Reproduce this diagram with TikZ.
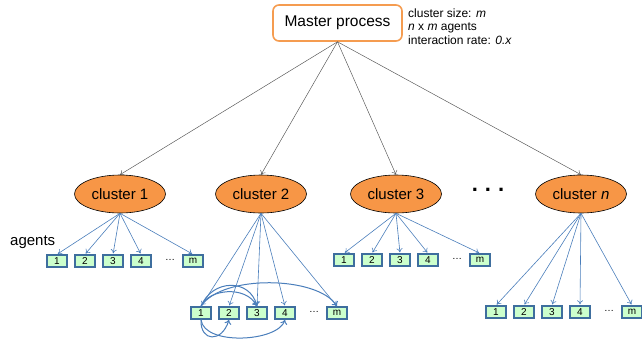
\documentclass[tikz,border=0pt]{standalone}
\usepackage{fontspec}
\setmainfont{Liberation Sans}
\usetikzlibrary{shapes.geometric,arrows.meta}
\definecolor{clusterorange}{HTML}{F79646}
\definecolor{boxorange}{HTML}{F59C50}
\definecolor{agentfill}{HTML}{CCFFCC}
\definecolor{agentedge}{HTML}{3E6E9E}
\definecolor{linkblue}{HTML}{4A7EBB}
\definecolor{toplinkgray}{HTML}{505050}
\begin{document}
\begin{tikzpicture}[x=1pt,y=-1pt,
  masterbox/.style={draw=boxorange,line width=1.6pt,rounded corners=6pt,fill=white,
    minimum width=129pt,minimum height=36pt,inner sep=0pt,font=\fontsize{15.5}{17}\selectfont},
  cluster/.style={ellipse,draw=black,line width=0.6pt,fill=clusterorange,
    minimum width=91pt,minimum height=38pt,inner sep=0pt,font=\fontsize{15}{17}\selectfont},
  agent/.style={rectangle,draw=agentedge,line width=1.4pt,fill=agentfill,
    minimum width=20pt,minimum height=12pt,inner sep=0pt,font=\fontsize{10}{11}\selectfont},
  rowdots/.style={inner sep=0pt,font=\fontsize{10}{11}\selectfont},
  toplink/.style={draw=toplinkgray,line width=0.45pt,-{To[length=4pt,width=6pt]}},
  agentlink/.style={draw=linkblue,line width=0.6pt,-{To[length=4pt,width=6pt]},shorten >=1pt},
  peerlink/.style={draw=linkblue,line width=1pt,-{To[length=4.5pt,width=7pt]}}]
\useasboundingbox (0,0) rectangle (642,341);

% master process and its notes
\node[masterbox] (master) at (337.5,23) {Master process};
\node[anchor=north west,align=left,inner sep=0pt,font=\fontsize{12}{13.8}\selectfont]
  (notes) at (408,8.2) {cluster size: \textit{m}\\\textit{n} x \textit{m} agents\\interaction rate: \textit{0.x}};

% clusters
\node[cluster] (c1) at (120,194) {cluster 1};
\node[cluster] (c2) at (261,194) {cluster 2};
\node[cluster] (c3) at (396,194) {cluster 3};
\node[cluster] (cn) at (581,194) {cluster \textit{n}};
\node[inner sep=0pt,font=\fontsize{22}{22}\selectfont\bfseries] (cdots) at (488,190) {.\hspace{7pt}.\hspace{7pt}.};

\foreach \c in {c1,c2,c3,cn} \draw[toplink] (master.south) -- (\c.north);

\node[anchor=base west,inner sep=0pt,font=\fontsize{15}{17}\selectfont] (agentslabel) at (10,245) {agents};

% agent rows: cluster name / first box x / row y
\foreach \c/\x/\y in {c1/57/261,c2/201/313,c3/344/260,cn/496/312}{
  \foreach \i in {1,2,3,4}
    \node[agent] (\c-\i) at ({\x+28*(\i-1)},\y) {\i};
  \node[agent] (\c-m) at ({\x+136},\y) {m};
  \node[rowdots] (\c-dots) at ({\x+113},{\y-1.5}) {…};
  \foreach \i in {1,2,3,4,m}
    \draw[agentlink] (\c.south) -- (\c-\i.north);
}

% interactions between agents of cluster 2
\draw[peerlink] (c2-1.north) .. controls (212,279) and (250,278) .. (c2-3.north);
\draw[peerlink] (c2-1.north) .. controls (208,289) and (246,285) .. (c2-3.north);
\draw[peerlink] (c2-1.north) .. controls (222,274) and (318,276) .. (c2-m.north);
\draw[peerlink] (c2-1.south) .. controls (200,342) and (222,343) .. (c2-2.south);
\draw[peerlink] (c2-1.south) .. controls (204,346) and (278,342) .. (c2-4.south);
\end{tikzpicture}
\end{document}
